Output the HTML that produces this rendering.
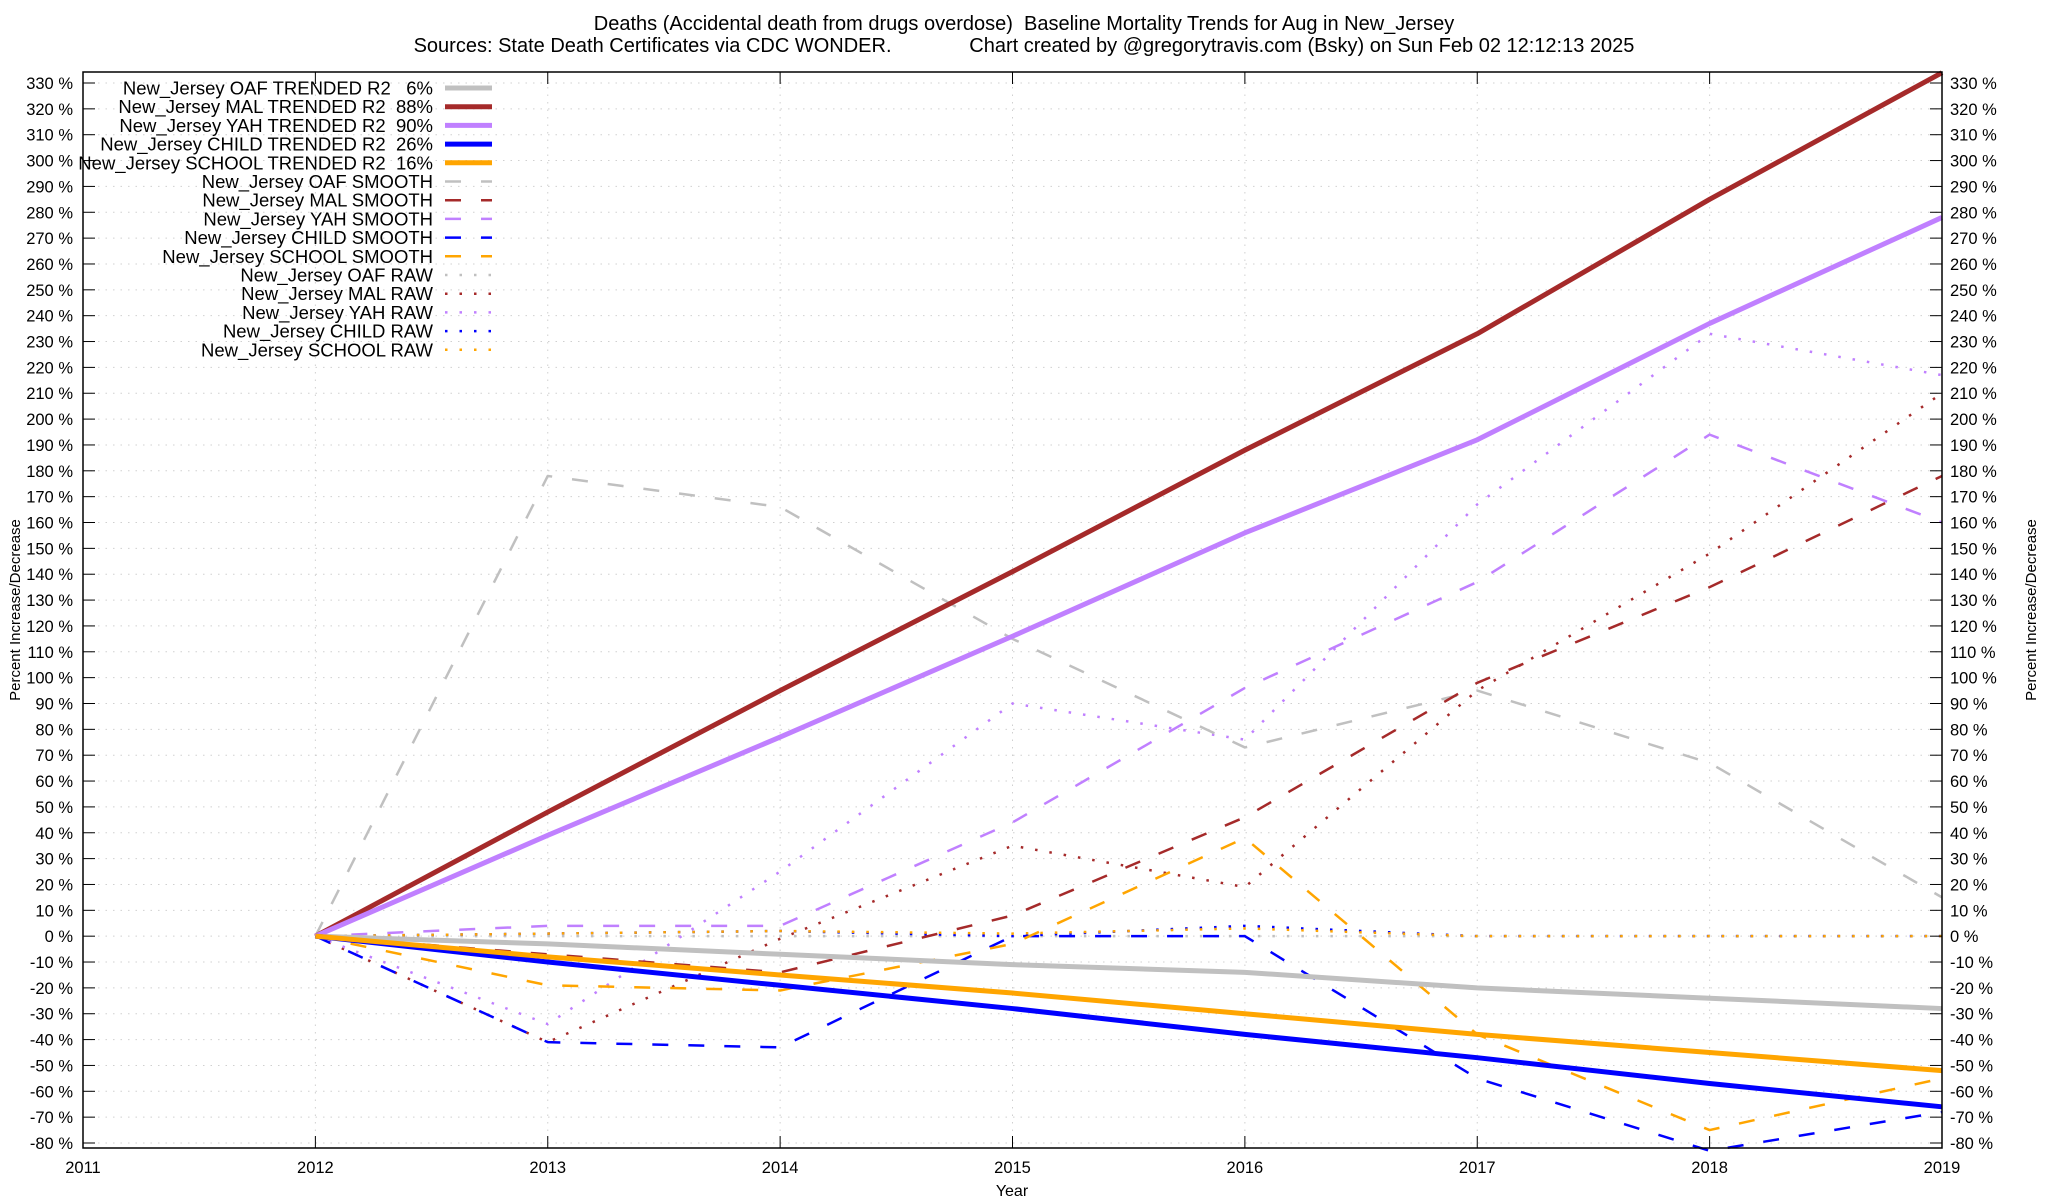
<!DOCTYPE html>
<html><head><meta charset="utf-8"><style>
html,body{margin:0;padding:0;background:#fff;}
svg{display:block;font-family:"Liberation Sans",sans-serif;}
text{white-space:pre;}
</style></head><body>
<svg id="chart" width="2048" height="1200" viewBox="0 0 2048 1200" xmlns="http://www.w3.org/2000/svg">
<rect width="2048" height="1200" fill="#fff"/>
<text x="1024" y="30" font-size="20" text-anchor="middle">Deaths (Accidental death from drugs overdose)  Baseline Mortality Trends for Aug in New_Jersey</text>
<text x="1024" y="52" font-size="20" text-anchor="middle">Sources: State Death Certificates via CDC WONDER.              Chart created by @gregorytravis.com (Bsky) on Sun Feb 02 12:12:13 2025</text>
<g id="grid"></g>
<g id="series"></g>
<g id="axes"></g>
<g id="legend"></g>
<text x="1012" y="1196" font-size="16" text-anchor="middle">Year</text>
<text transform="translate(20,610) rotate(-90)" font-size="15" text-anchor="middle">Percent Increase/Decrease</text>
<text transform="translate(2036,610) rotate(-90)" font-size="15" text-anchor="middle">Percent Increase/Decrease</text>
</svg>
<script>
const years = [2012,2013,2014,2015,2016,2017,2018,2019];
const xTicks = [2011,2012,2013,2014,2015,2016,2017,2018,2019];
const yTicks = [-80,-70,-60,-50,-40,-30,-20,-10,0,10,20,30,40,50,60,70,80,90,100,110,120,130,140,150,160,170,180,190,200,210,220,230,240,250,260,270,280,290,300,310,320,330];
const seriesNames = ["OAF TRENDED R2   6%","MAL TRENDED R2  88%","YAH TRENDED R2  90%","CHILD TRENDED R2  26%","SCHOOL TRENDED R2  16%","OAF SMOOTH","MAL SMOOTH","YAH SMOOTH","CHILD SMOOTH","SCHOOL SMOOTH","OAF RAW","MAL RAW","YAH RAW","CHILD RAW","SCHOOL RAW"];
const oafTrend = [0,-3,-7,-11,-14,-20,-24,-28];
const malTrend = [0,48,95,141,188,233,285,334];
const yahTrend = [0,39,77,116,156,192,237,278];
const childTrend = [0,-10,-19,-28,-38,-47,-57,-66];
const schoolTrend = [0,-8,-15,-22,-30,-38,-45,-52];
const oafSmooth = [0,178,166,115,73,95,67,15];
const malSmooth = [0,-7,-14,8,46,98,135,178];
const yahSmooth = [0,4,4,44,96,137,194,160];
const childSmooth = [0,-41,-43,0,0,-55,-83,-68];
const schoolSmooth = [0,-19,-21,-3,38,-38,-75,-55];
const oafRaw = [0,0,0,0,0,0,0,0];
const malRaw = [0,-41,-1,35,19,95,148,210];
const yahRaw = [0,-34,25,90,76,167,233,217];
const childRaw = [0,1,2,0,4,0,0,0];
const schoolRaw = [0,1,2,1,3,0,0,0];

const L=83,R=1942,T=72,B=1148;
const x = v => L + (v-2011)*(R-L)/8;
const y = v => 1143 - (v+80)*(1143-83)/410;
const NS="http://www.w3.org/2000/svg";
function mk(tag,attrs,parent){const e=document.createElementNS(NS,tag);for(const k in attrs)e.setAttribute(k,attrs[k]);parent.appendChild(e);return e;}
const grid=document.getElementById('grid'),axes=document.getElementById('axes'),ser=document.getElementById('series'),leg=document.getElementById('legend');

yTicks.forEach(v=>{
  const gl=mk('line',{x1:L,x2:R,y1:y(v),y2:y(v),stroke:'#d0d0d0','stroke-width':1,'stroke-dasharray':'1.5,6'},grid);
  
  
  const t1=mk('line',{x1:L,x2:L+12,y1:y(v),y2:y(v),stroke:'#000','stroke-width':1},axes);
  
  
  const t2=mk('line',{x1:R-12,x2:R,y1:y(v),y2:y(v),stroke:'#000','stroke-width':1},axes);
  
  
  const lb=mk('text',{x:73,y:y(v)+6,'font-size':16.5,'text-anchor':'end'},axes);
  lb.textContent=v+' %';
  
  
  const rb=mk('text',{x:1950,y:y(v)+6,'font-size':16.5},axes);
  rb.textContent=v+' %';
  
  
});
xTicks.forEach(v=>{
  const gl=mk('line',{x1:x(v),x2:x(v),y1:T,y2:B,stroke:'#d0d0d0','stroke-width':1,'stroke-dasharray':'1.5,6'},grid);
  
  
  const t=mk('line',{x1:x(v),x2:x(v),y1:B,y2:B-12,stroke:'#000'},axes);
  
  
  const t2=mk('line',{x1:x(v),x2:x(v),y1:T,y2:T+12,stroke:'#000'},axes);
  
  
  const lb=mk('text',{x:x(v),y:1173,'font-size':16.5,'text-anchor':'middle'},axes);
  lb.textContent=v;
  
  
});
const frame=mk('rect',{x:L,y:T,width:R-L,height:B-T,fill:'none',stroke:'#000','stroke-width':1.5},axes);



const cols=['#c0c0c0','#a52a2a','#c080ff','#0000ff','#ffa500'];
const all=[oafTrend,malTrend,yahTrend,childTrend,schoolTrend,oafSmooth,malSmooth,yahSmooth,childSmooth,schoolSmooth,oafRaw,malRaw,yahRaw,childRaw,schoolRaw];
const styles=[{w:5,d:''},{w:2.5,d:'16,20'},{w:2.5,d:'2.5,12'}];
[2,1,0].forEach(g=>{
  for(let i=0;i<5;i++){
    const idx=g*5+i, data=all[idx], st=styles[g];
    const pts=data.map((v,j)=>x(years[j])+','+y(v)).join(' ');
    const p=mk('polyline',{points:pts,fill:'none',stroke:cols[i],'stroke-width':st.w,'stroke-dasharray':st.d,'stroke-linejoin':'round'},ser);
    
    
  }
});
seriesNames.forEach((n,k)=>{
  const g=Math.floor(k/5), i=k%5, st=styles[g], yy=88+k*18.7;
  const t=mk('text',{x:433,y:yy+6.5,'font-size':18.5,'text-anchor':'end'},leg);
  t.textContent='New_Jersey '+n;
  
  
  const s=mk('line',{x1:445,x2:492,y1:yy,y2:yy,stroke:cols[i],'stroke-width':st.w,'stroke-dasharray':st.d},leg);
  
  
});
</script>
</body></html>
